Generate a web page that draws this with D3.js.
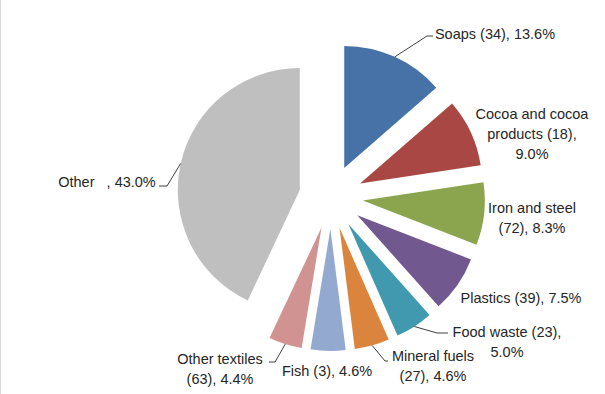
<!DOCTYPE html>
<html>
<head>
<meta charset="utf-8">
<script src="https://cdn.jsdelivr.net/npm/d3@7"></script>
<style>
  body { margin: 0; background: #fff; }
  text { font-family: "Liberation Sans", Arial, sans-serif; font-size: 14.5px; fill: #262626; white-space: pre; }
</style>
</head>
<body>
<div id="chart"></div>
<script>
// categories and values (percent share)
var categories = ['Soaps', 'Cocoa and cocoa products', 'Iron and steel', 'Plastics', 'Food waste',
                  'Mineral fuels', 'Fish', 'Other textiles', 'Other'];
var counts = [34, 18, 72, 39, 23, 27, 3, 63, null];
var shares = [13.6, 9.0, 8.3, 7.5, 5.0, 4.6, 4.6, 4.4, 43.0];
var colors = ['#4672A8', '#A94744', '#8AA54E', '#71588F', '#4199AF', '#DB843D', '#93A9CF', '#D19392', '#BFBFBF'];

// label text lines for each slice
var labelLines = [
    ['Soaps (34), 13.6%'],
    ['Cocoa and cocoa', 'products (18),', '9.0%'],
    ['Iron and steel', '(72), 8.3%'],
    ['Plastics (39), 7.5%'],
    ['Food waste (23),', '5.0%'],
    ['Mineral fuels', '(27), 4.6%'],
    ['Fish (3), 4.6%'],
    ['Other textiles', '(63), 4.4%'],
    ['Other   , 43.0%']
];

var svgWidth = 605;
var svgHeight = 394;

var svg = d3.select('#chart')
    .append('svg')
    .attr('width', svgWidth)
    .attr('height', svgHeight);

// chart frame left edge
svg.append('line')
    .attr('x1', 0.5).attr('x2', 0.5)
    .attr('y1', 0).attr('y2', svgHeight)
    .attr('stroke', '#d9d9d9');

var cx = 331, cy = 197;
var radius = 122;
var explode = 32;

var pie = d3.pie().sort(null).value(function (d) { return d; });
var arcs = pie(shares);
var arc = d3.arc().innerRadius(0).outerRadius(radius);

function midAngle(d) { return (d.startAngle + d.endAngle) / 2; }

var g = svg.append('g').attr('transform', 'translate(' + cx + ',' + cy + ')');

g.selectAll('path')
    .data(arcs)
    .enter()
    .append('path')
    .attr('d', arc)
    .attr('fill', function (d, i) { return colors[i]; })
    .attr('transform', function (d) {
        var a = midAngle(d);
        return 'translate(' + (Math.sin(a) * explode) + ',' + (-Math.cos(a) * explode) + ')';
    });

// label placement (center x, first baseline y, line step)
var labelPos = [
    [495, 39], [532, 119], [532, 213], [521, 303], [507, 337],
    [433, 361], [327, 376], [220, 364], [107, 187]
];
var lineStep = 20;

// leader lines: elbow point and end point (null = no leader)
var leaders = [
    [[427, 36], [433, 36]],
    null, null, null,
    [[437, 333], [448, 333]],
    [[385, 361], [388, 361]],
    null,
    [[275, 362], [269, 362]],
    [[167, 186], [159, 186]]
];

arcs.forEach(function (d, i) {
    var lines = labelLines[i];
    var t = svg.append('text')
        .attr('text-anchor', 'middle');
    lines.forEach(function (line, j) {
        t.append('tspan')
            .attr('x', labelPos[i][0])
            .attr('y', labelPos[i][1] + j * lineStep)
            .text(line);
    });

    if (leaders[i]) {
        var a = midAngle(d);
        var start = [cx + Math.sin(a) * (radius + explode), cy - Math.cos(a) * (radius + explode)];
        svg.append('polyline')
            .attr('points', [start, leaders[i][0], leaders[i][1]].map(function (p) { return p.join(','); }).join(' '))
            .attr('fill', 'none')
            .attr('stroke', '#404040')
            .attr('stroke-width', 1);
    }
});
</script>
</body>
</html>
